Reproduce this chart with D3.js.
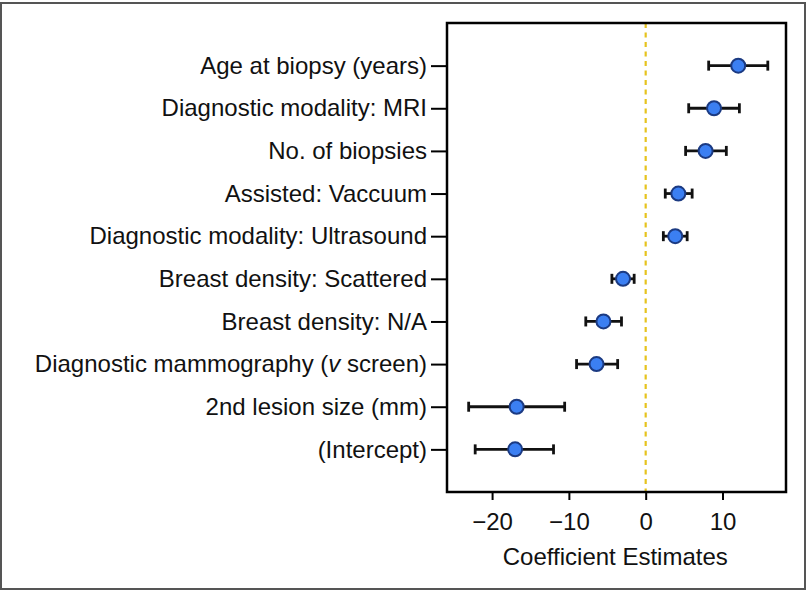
<!DOCTYPE html>
<html><head><meta charset="utf-8">
<script src="https://cdn.jsdelivr.net/npm/d3@7"></script>
<style>body{margin:0;background:#fff;} svg{display:block;font-family:"Liberation Sans",Arial,sans-serif;}</style>
</head><body><svg id="c" width="809" height="591"></svg>
<script>
const labels = ["Age at biopsy (years)","Diagnostic modality: MRI","No. of biopsies","Assisted: Vaccuum","Diagnostic modality: Ultrasound","Breast density: Scattered","Breast density: N/A","Diagnostic mammography (v screen)","2nd lesion size (mm)","(Intercept)"];
const estimates = [12.05, 8.9, 7.8, 4.25, 3.85, -2.95, -5.5, -6.4, -16.8, -17.0];
const lower = [8.2, 5.6, 5.2, 2.55, 2.3, -4.4, -7.8, -9.0, -23.05, -22.2];
const upper = [15.9, 12.2, 10.5, 6.05, 5.4, -1.5, -3.15, -3.65, -10.55, -12.0];
const xTicks = [-20, -10, 0, 10];
const xTitle = "Coefficient Estimates";

const svg = d3.select("#c");
const L = 447, R = 786, T = 23, B = 492;
const x = d3.scaleLinear().domain([-25.87, 18.27]).range([L, R]);
const y = d3.scaleLinear().domain([0, 11]).range([T, B]);

// outer border
svg.append("rect").attr("x",1).attr("y",3).attr("width",804).attr("height",586)
  .attr("fill","none").attr("stroke","#555").attr("stroke-width",2);

// zero line
svg.append("line").attr("x1",x(0)).attr("x2",x(0)).attr("y1",T).attr("y2",B)
  .attr("stroke","#e6c31e").attr("stroke-width",2.2).attr("stroke-dasharray","5,4.5");

const data = labels.map((l,i)=>({l, e:estimates[i], lo:lower[i], hi:upper[i], r:i+1}));

// error bars
const g = svg.append("g");
data.forEach(d=>{
  g.append("line").attr("x1",x(d.lo)).attr("x2",x(d.hi)).attr("y1",y(d.r)).attr("y2",y(d.r))
    .attr("stroke","#111").attr("stroke-width",2.8);
  [d.lo,d.hi].forEach(v=>g.append("line").attr("x1",x(v)).attr("x2",x(v))
    .attr("y1",y(d.r)-5).attr("y2",y(d.r)+5).attr("stroke","#111").attr("stroke-width",2.8));
});
g.selectAll("circle").data(data).join("circle")
  .attr("cx",d=>x(d.e)).attr("cy",d=>y(d.r)).attr("r",7)
  .attr("fill","#3b7ff2").attr("stroke","#1b3a82").attr("stroke-width",2);

// box
svg.append("rect").attr("x",L).attr("y",T).attr("width",R-L).attr("height",B-T)
  .attr("fill","none").attr("stroke","#000").attr("stroke-width",2.5);

// x axis
const xa = svg.append("g").attr("transform",`translate(0,${B})`)
  .call(d3.axisBottom(x).tickValues(xTicks).tickSize(8).tickPadding(13).tickFormat(d3.format("d")));
xa.select(".domain").remove();
xa.selectAll("line").attr("stroke","#000").attr("stroke-width",2);
xa.selectAll("text").attr("font-size",24).attr("fill","#111");

svg.append("text").attr("x",(x(-20)+x(10))/2 + 8).attr("y",565).attr("text-anchor","middle")
  .attr("font-size",24).attr("fill","#111").text(xTitle);

// y axis
const ya = svg.append("g").attr("transform",`translate(${L},0)`)
  .call(d3.axisLeft(y).tickValues(data.map(d=>d.r)).tickSize(16).tickPadding(4)
    .tickFormat(r=>labels[r-1]));
ya.select(".domain").remove();
ya.selectAll("line").attr("stroke","#000").attr("stroke-width",2);
ya.selectAll("text").attr("font-size",24).attr("fill","#111")
  .each(function(r){
    const t = d3.select(this), s = labels[r-1];
    if (s.includes("(v ")) {
      t.text(null);
      t.append("tspan").text("Diagnostic mammography (");
      t.append("tspan").attr("font-style","italic").text("v");
      t.append("tspan").text(" screen)");
    }
  });
</script></body></html>
